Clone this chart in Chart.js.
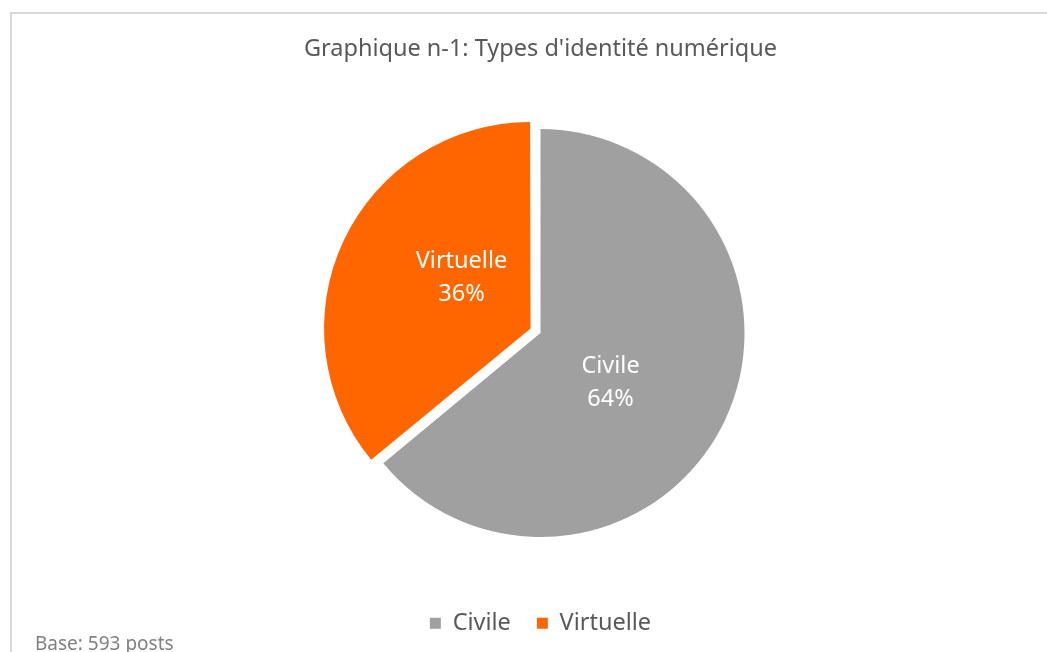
<!DOCTYPE html>
<html>
<head>
<meta charset="utf-8">
<script src="https://cdn.jsdelivr.net/npm/chart.js@4.4.0/dist/chart.umd.min.js"></script>
<style>
    html, body { margin: 0; padding: 0; background: #fff; overflow: hidden; }
    #frame {
        position: absolute; left: 10px; top: 12px; width: 1100px; height: 700px;
        border-left: 2px solid #d9d9d9; border-top: 2px solid #d9d9d9;
    }
    #pieChart { position: absolute; left: 0; top: 0; }
</style>
</head>
<body>
<div id="frame"></div>
<canvas id="pieChart" width="1047" height="652"></canvas>
<script>
const categories = ['Civile', 'Virtuelle'];
const shares = [64, 36];
const colours = ['#a0a0a0', '#ff6600'];
const explode = [0, 44];
const chartTitle = "Graphique n-1: Types d'identité numérique";
const baseNote = 'Base: 593 posts';

const fontFamily = "'Noto Sans', 'Open Sans', sans-serif";

// labels inside the slices: name + percent
const sliceLabels = {
    id: 'sliceLabels',
    afterDatasetsDraw(chart) {
        const ctx = chart.ctx;
        const meta = chart.getDatasetMeta(0);
        const total = shares.reduce((a, b) => a + b, 0);
        ctx.save();
        ctx.fillStyle = '#ffffff';
        ctx.font = '23.5px ' + fontFamily;
        ctx.textAlign = 'center';
        ctx.textBaseline = 'middle';
        meta.data.forEach(function (arc, i) {
            const p = arc.getProps(['x', 'y', 'startAngle', 'endAngle', 'outerRadius']);
            // a little clockwise of the middle, like the original
            const mid = (p.startAngle + p.endAngle) / 2 + 10 * Math.PI / 180;
            const shift = (arc.options.offset || 0) / 4;
            const r = p.outerRadius * 0.42 + shift;
            const x = p.x + Math.cos(mid) * r;
            const y = p.y + Math.sin(mid) * r;
            const pct = Math.round(shares[i] / total * 100) + '%';
            ctx.fillText(categories[i], x, y - 16);
            ctx.fillText(pct, x, y + 17);
        });
        ctx.restore();
    }
};

const footNote = {
    id: 'footNote',
    afterDraw(chart) {
        const ctx = chart.ctx;
        ctx.save();
        ctx.fillStyle = '#808080';
        ctx.font = '19px ' + fontFamily;
        ctx.textAlign = 'left';
        ctx.textBaseline = 'alphabetic';
        ctx.fillText(baseNote, 35, 650);
        ctx.restore();
    }
};

const ctx = document.getElementById('pieChart').getContext('2d');
const pieChart = new Chart(ctx, {
    type: 'pie',
    data: {
        labels: categories,
        datasets: [{
            data: shares,
            backgroundColor: colours,
            borderWidth: 0,
            offset: explode,
            radius: 204
        }]
    },
    options: {
        responsive: false,
        animation: false,
        layout: {
            padding: { left: 34, right: 0, top: 0, bottom: 7 }
        },
        plugins: {
            title: {
                display: true,
                text: chartTitle,
                color: '#595959',
                font: { family: fontFamily, size: 23.5, weight: 'normal' },
                padding: { top: 35, bottom: 17.5 }
            },
            legend: {
                position: 'bottom',
                labels: {
                    color: '#595959',
                    boxWidth: 11,
                    boxHeight: 11,
                    padding: 26,
                    font: { family: fontFamily, size: 23.5 }
                }
            },
            tooltip: { enabled: false }
        }
    },
    plugins: [sliceLabels, footNote]
});
</script>
</body>
</html>
